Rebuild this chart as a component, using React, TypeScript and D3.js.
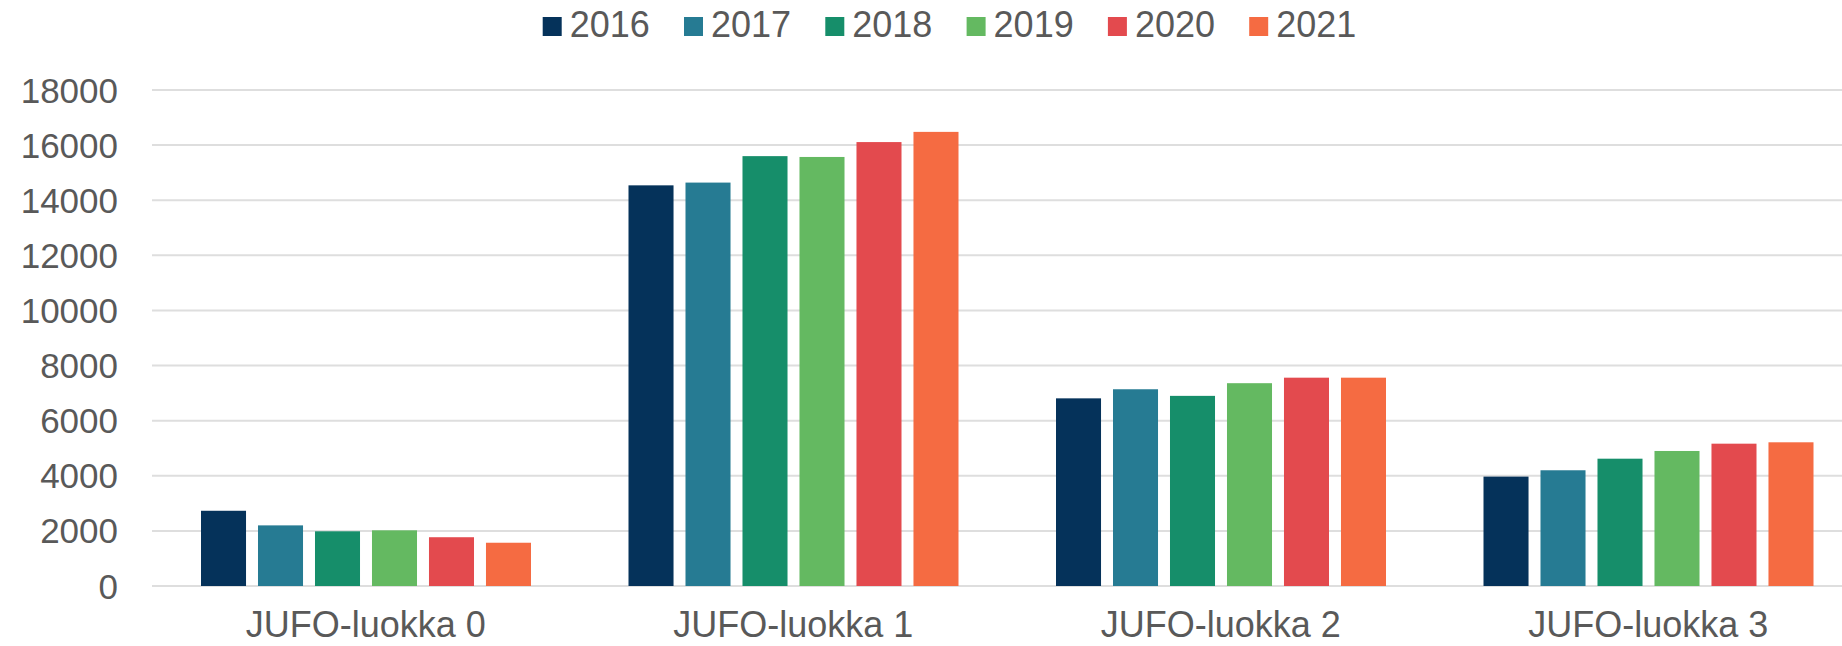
// Grouped bar chart: JUFO-luokka publications by year
import React, { useEffect, useRef } from 'react';
import * as d3 from 'd3';

const categories = ['JUFO-luokka 0', 'JUFO-luokka 1', 'JUFO-luokka 2', 'JUFO-luokka 3'];
const years = ['2016', '2017', '2018', '2019', '2020', '2021'];
const colors = ['#05325A', '#267B93', '#168E6A', '#64B961', '#E34A4E', '#F56B42'];

// values per year, in category order
const v2016 = [2730, 14540, 6810, 3970];
const v2017 = [2200, 14640, 7140, 4200];
const v2018 = [1985, 15600, 6900, 4620];
const v2019 = [2020, 15570, 7360, 4900];
const v2020 = [1770, 16110, 7560, 5165];
const v2021 = [1570, 16480, 7560, 5215];
const series = [v2016, v2017, v2018, v2019, v2020, v2021];

const yTicks = [0, 2000, 4000, 6000, 8000, 10000, 12000, 14000, 16000, 18000];

const FONT = '"Liberation Sans", Arial, sans-serif';
const TEXT = '#595959';

const App: React.FC = () => {
  const ref = useRef<SVGSVGElement>(null);

  useEffect(() => {
    if (!ref.current) return;
    const svg = d3.select(ref.current);
    svg.selectAll('*').remove();

    const width = 1842;
    const height = 646;
    svg.attr('width', width).attr('height', height);

    const left = 152;
    const right = 1862; // plot runs a bit past the picture edge
    const y = d3.scaleLinear().domain([0, 18000]).range([586, 90]);
    const x0 = d3.scaleBand<string>().domain(categories).range([left, right]).padding(0);
    const x1 = d3.scaleBand<string>().domain(years).range([49, 379]).paddingInner(0.21).paddingOuter(0);

    // gridlines
    svg.append('g')
      .selectAll('line')
      .data(yTicks)
      .enter()
      .append('line')
      .attr('x1', left)
      .attr('x2', right)
      .attr('y1', d => y(d))
      .attr('y2', d => y(d))
      .attr('stroke', '#dedede')
      .attr('stroke-width', 2);

    // y tick labels
    svg.append('g')
      .selectAll('text')
      .data(yTicks)
      .enter()
      .append('text')
      .attr('x', 118)
      .attr('y', d => y(d))
      .attr('dy', '0.36em')
      .attr('text-anchor', 'end')
      .style('font-family', FONT)
      .style('font-size', '35px')
      .style('fill', TEXT)
      .text(d => String(d));

    // bars
    const groups = svg.append('g')
      .selectAll('g')
      .data(categories)
      .enter()
      .append('g')
      .attr('transform', d => `translate(${x0(d)},0)`);

    groups.selectAll('rect')
      .data((_, ci) => years.map((yr, si) => ({ yr, si, v: series[si][ci] })))
      .enter()
      .append('rect')
      .attr('x', d => x1(d.yr)!)
      .attr('y', d => y(d.v))
      .attr('width', x1.bandwidth())
      .attr('height', d => y(0) - y(d.v))
      .attr('fill', d => colors[d.si]);

    // category labels
    svg.append('g')
      .selectAll('text')
      .data(categories)
      .enter()
      .append('text')
      .attr('x', d => x0(d)! + x0.bandwidth() / 2)
      .attr('y', 637)
      .attr('text-anchor', 'middle')
      .style('font-family', FONT)
      .style('font-size', '36px')
      .style('fill', TEXT)
      .text(d => d);

    // legend
    const legend = svg.append('g')
      .selectAll('g')
      .data(years)
      .enter()
      .append('g')
      .attr('transform', (_, i) => `translate(${542.7 + i * 141.3},0)`);

    legend.append('rect')
      .attr('x', 0)
      .attr('y', 17)
      .attr('width', 19)
      .attr('height', 19)
      .attr('fill', (_, i) => colors[i]);

    legend.append('text')
      .attr('x', 27)
      .attr('y', 36.5)
      .style('font-family', FONT)
      .style('font-size', '36px')
      .style('fill', TEXT)
      .text(d => d);
  }, []);

  return (
    <svg ref={ref} style={{ position: 'absolute', left: 0, top: 0, background: '#fff' }}></svg>
  );
};

export default App;
